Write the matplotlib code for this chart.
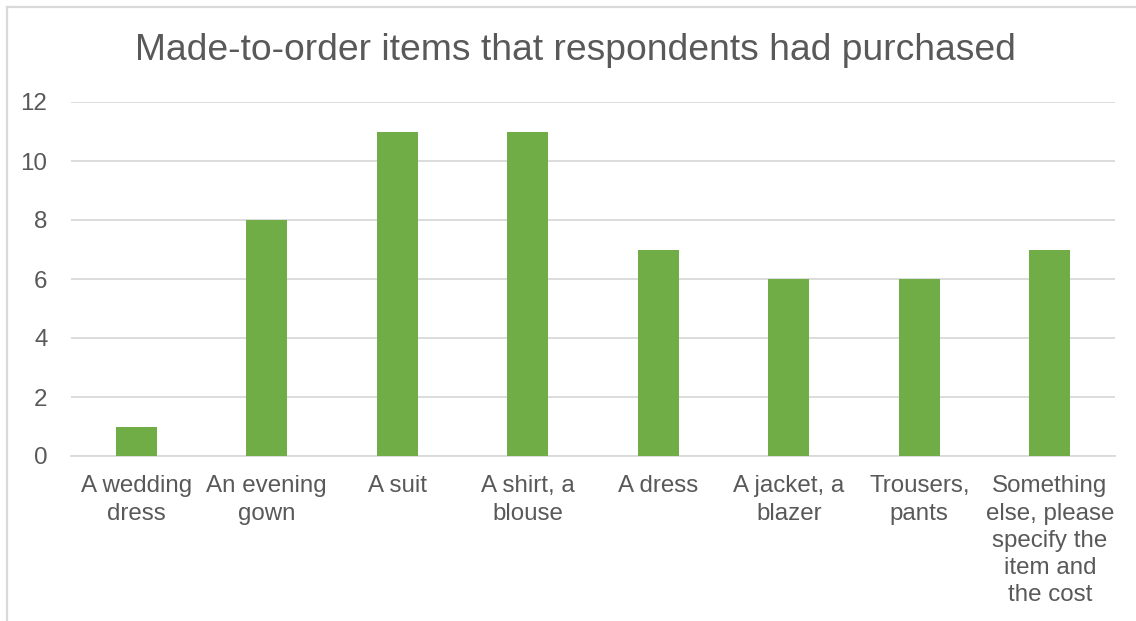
import matplotlib.pyplot as plt
from matplotlib.lines import Line2D

plt.rcParams['font.family'] = ['Liberation Sans', 'DejaVu Sans']

items = ["A wedding\ndress", "An evening\ngown", "A suit", "A shirt, a\nblouse",
         "A dress", "A jacket, a\nblazer", "Trousers,\npants",
         "Something\nelse, please\nspecify the\nitem and\nthe cost"]
counts = [1, 8, 11, 11, 7, 6, 6, 7]
y_ticks = [0, 2, 4, 6, 8, 10, 12]

text_col = '#595959'
grid_col = '#D9D9D9'
bar_col = '#70AD47'

W, H = 1136, 621
fig = plt.figure(figsize=(W / 100, H / 100), dpi=100)
ax = fig.add_axes([71 / W, 1 - 456 / H, (1115 - 71) / W, (456 - 102) / H])

ax.bar(range(len(items)), counts, width=0.315, color=bar_col, zorder=3)

ax.set_xlim(-0.5, len(items) - 0.5)
ax.set_ylim(0, 12)
ax.set_yticks(y_ticks)
ax.set_xticks(range(len(items)))
ax.set_xticklabels(items, multialignment='center', linespacing=1.3)
ax.grid(axis='y', color=grid_col, linewidth=1.3, zorder=0)
ax.tick_params(axis='both', length=0, labelsize=17.4, colors=text_col)
ax.tick_params(axis='y', pad=17)
ax.tick_params(axis='x', pad=14)
for side in ['top', 'right', 'left']:
    ax.spines[side].set_visible(False)
ax.spines['bottom'].set_color(grid_col)
ax.spines['bottom'].set_linewidth(1.3)

fig.text(575 / W, 1 - 51 / H, "Made-to-order items that respondents had purchased",
         ha='center', va='center', fontsize=26.8, color=text_col)

# chart frame (only left and top edges fall inside the canvas)
fig.add_artist(Line2D([7 / W, 7 / W], [0, 1 - 7 / H], color=grid_col, linewidth=1.6))
fig.add_artist(Line2D([7 / W, 1], [1 - 7 / H, 1 - 7 / H], color=grid_col, linewidth=1.6))

fig.savefig('out.png', dpi=100, facecolor='white')
